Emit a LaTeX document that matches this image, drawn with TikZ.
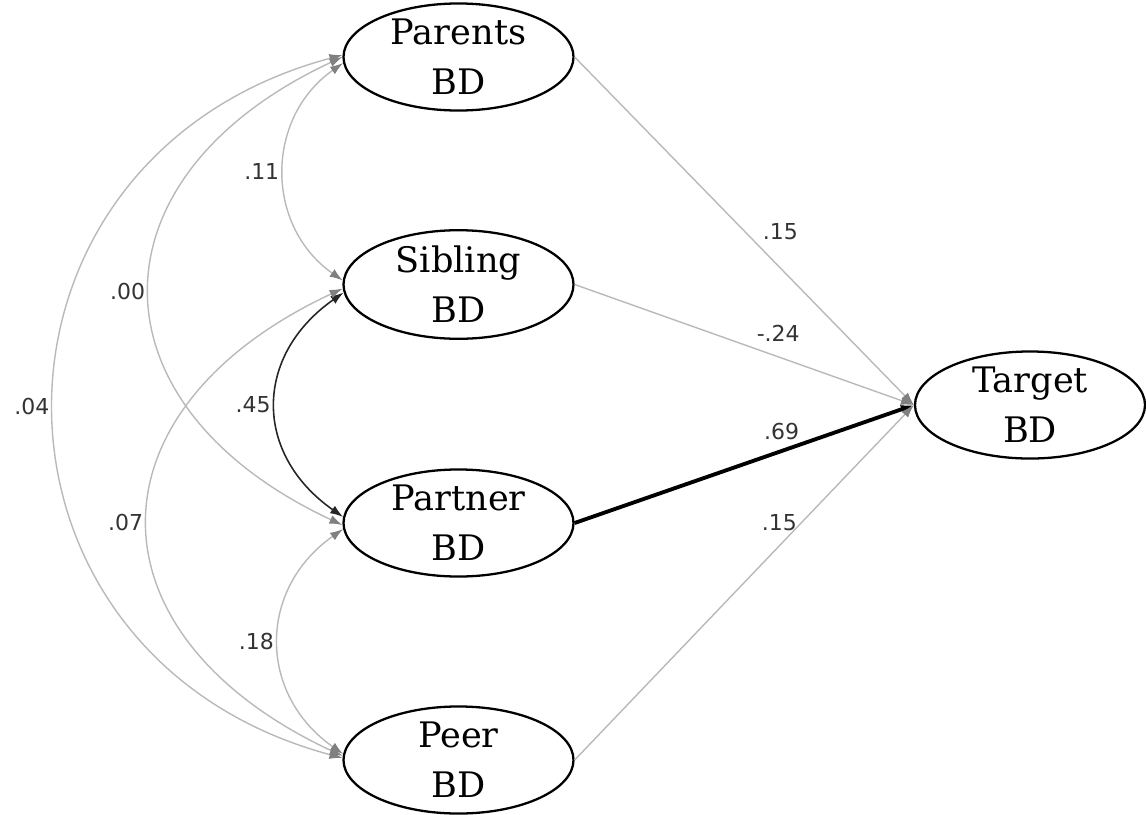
\documentclass[tikz,border=0pt]{standalone}
\usepackage{fontspec}
\usetikzlibrary{shapes.geometric,arrows.meta}
\newfontfamily\nodefont{DejaVu Serif}
\newfontfamily\labelfont{DejaVu Sans}

\begin{document}
\begin{tikzpicture}[
    latent/.style={ellipse, draw, line width=1.3pt, minimum width=4.6cm, minimum height=2.08cm,
      inner sep=0pt, align=center, font=\nodefont\fontsize{20}{28.5}\selectfont},
    regpath/.style={draw=gray!55, line width=0.8pt, -{Latex[length=2.6mm,width=1.8mm,color=gray]}},
    strongpath/.style={draw=black, line width=2.2pt, -{Latex[length=2.6mm,width=1.8mm]}},
    covarc/.style={draw=gray!55, line width=0.8pt,
      {Latex[length=2.6mm,width=1.8mm,color=gray]}-{Latex[length=2.6mm,width=1.8mm,color=gray]}},
    strongarc/.style={draw=black!85, line width=0.9pt,
      {Latex[length=2.6mm,width=1.8mm]}-{Latex[length=2.6mm,width=1.8mm]}},
    coef/.style={font=\labelfont\fontsize{12.5}{14}\selectfont, text=black!80, inner sep=2.5pt}
  ]
    \useasboundingbox (0, 0) rectangle (22.92, -16.28);

    \node[latent] (Parents) at (9.17, -1.14) {Parents\\BD};
    \node[latent] (Sibling) at (9.17, -5.69) {Sibling\\BD};
    \node[latent] (Partner) at (9.17, -10.46) {Partner\\BD};
    \node[latent] (Peer) at (9.17, -15.20) {Peer\\BD};
    \node[latent] (Target) at (20.60, -8.10) {Target\\BD};

    % 回帰パス
    \draw[regpath] (Parents.east) -- node[coef, above right, pos=0.54] {.15} (Target.west);
    \draw[regpath] (Sibling.east) -- node[coef, above=6pt, pos=0.6] {-.24} (Target.west);
    \draw[strongpath] (Partner.east) -- node[coef, above=3pt, pos=0.61] {.69} (Target.west);
    \draw[regpath] (Peer.east) -- node[coef, left, pos=0.67] {.15} (Target.west);

    % 共分散
    \draw[covarc] (Parents.183) to[out=215, in=145, looseness=1.12] node[coef, left] {.11} (Sibling.178);
    \draw[covarc] (Parents.180) to[out=205, in=155, looseness=1.55] node[coef, left] {.00} (Partner.181);
    \draw[covarc] (Parents.179) to[out=195, in=165, looseness=1.45] node[coef, left] {.04} (Peer.179);
    \draw[strongarc] (Sibling.184) to[out=215, in=145, looseness=1.25] node[coef, left] {.45} (Partner.177.5);
    \draw[covarc] (Sibling.182) to[out=205, in=155, looseness=1.57] node[coef, left] {.07} (Peer.178);
    \draw[covarc] (Partner.183.5) to[out=215, in=145, looseness=1.19] node[coef, left] {.18} (Peer.177);
  \end{tikzpicture}
\end{document}
